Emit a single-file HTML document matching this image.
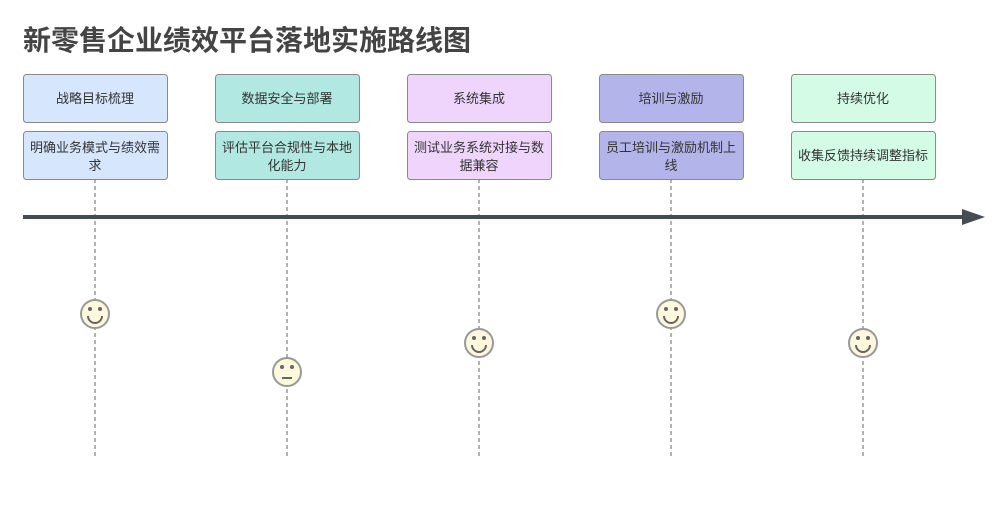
<!DOCTYPE html>
<html><head><meta charset="utf-8"><style>
body{margin:0;background:#fff;}
svg{display:block;font-family:"Liberation Sans","Noto Sans CJK SC",sans-serif;}
</style></head><body>
<svg width="1001" height="510" viewBox="0 0 1001 510">
<text x="23" y="50" font-size="28" font-weight="bold" fill="#444">新零售企业绩效平台落地实施路线图</text>
<g stroke="#666" stroke-width="1" stroke-dasharray="4,3">
<line x1="95" y1="179" x2="95" y2="458"/><line x1="287" y1="179" x2="287" y2="458"/><line x1="479" y1="179" x2="479" y2="458"/><line x1="671" y1="179" x2="671" y2="458"/><line x1="863" y1="179" x2="863" y2="458"/>
</g>
<line x1="23" y1="217" x2="965" y2="217" stroke="#454c54" stroke-width="4"/>
<polygon points="962,209 985,217 962,225" fill="#454c54"/>
<g stroke="#8a8a8a" stroke-width="1">
<rect x="23.5" y="74.5" width="144" height="48" rx="3" fill="#d6e6fc"/><rect x="23.5" y="131.5" width="144" height="48" rx="3" fill="#d6e6fc"/>
<rect x="215.5" y="74.5" width="144" height="48" rx="3" fill="#b2e8e2"/><rect x="215.5" y="131.5" width="144" height="48" rx="3" fill="#b2e8e2"/>
<rect x="407.5" y="74.5" width="144" height="48" rx="3" fill="#efd5fc"/><rect x="407.5" y="131.5" width="144" height="48" rx="3" fill="#efd5fc"/>
<rect x="599.5" y="74.5" width="144" height="48" rx="3" fill="#b3b5ea"/><rect x="599.5" y="131.5" width="144" height="48" rx="3" fill="#b3b5ea"/>
<rect x="791.5" y="74.5" width="144" height="48" rx="3" fill="#d3fbe6"/><rect x="791.5" y="131.5" width="144" height="48" rx="3" fill="#d3fbe6"/>
</g>
<g font-size="13" fill="#333" text-anchor="middle">
<text x="95" y="103">战略目标梳理</text><text x="95" y="152">明确业务模式与绩效需</text><text x="95" y="170">求</text>
<text x="287" y="103">数据安全与部署</text><text x="287" y="152">评估平台合规性与本地</text><text x="287" y="170">化能力</text>
<text x="479" y="103">系统集成</text><text x="479" y="152">测试业务系统对接与数</text><text x="479" y="170">据兼容</text>
<text x="671" y="103">培训与激励</text><text x="671" y="152">员工培训与激励机制上</text><text x="671" y="170">线</text>
<text x="863" y="103">持续优化</text><text x="863" y="160">收集反馈持续调整指标</text>
</g>
<g stroke="#999" stroke-width="2" fill="#fff8dc">
<circle cx="95" cy="314" r="14"/><circle cx="287" cy="372" r="14"/><circle cx="479" cy="343" r="14"/><circle cx="671" cy="314" r="14"/><circle cx="863" cy="343" r="14"/>
</g>
<g fill="#666">
<circle cx="90" cy="309" r="2"/><circle cx="100" cy="309" r="2"/>
<circle cx="282" cy="367" r="2"/><circle cx="292" cy="367" r="2"/>
<circle cx="474" cy="338" r="2"/><circle cx="484" cy="338" r="2"/>
<circle cx="666" cy="309" r="2"/><circle cx="676" cy="309" r="2"/>
<circle cx="858" cy="338" r="2"/><circle cx="868" cy="338" r="2"/>
</g>
<g stroke="#666" stroke-width="2" fill="none">
<path d="M88 316 A7 7 0 0 0 102 316"/>
<line x1="282" y1="378" x2="292" y2="378"/>
<path d="M472 345 A7 7 0 0 0 486 345"/>
<path d="M664 316 A7 7 0 0 0 678 316"/>
<path d="M856 345 A7 7 0 0 0 870 345"/>
</g>
</svg>
</body></html>
